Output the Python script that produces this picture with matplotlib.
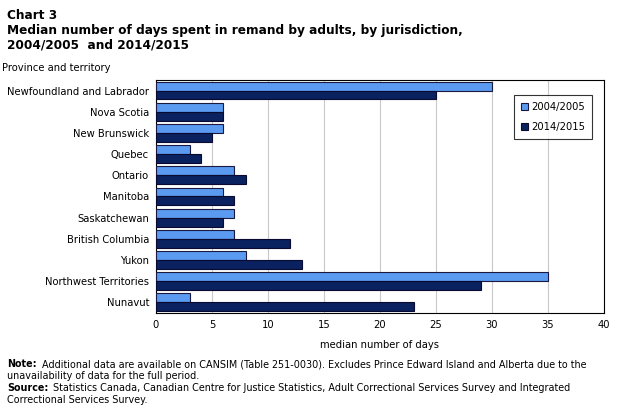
import numpy as np
import matplotlib.pyplot as plt

regions = ["Newfoundland and Labrador", "Nova Scotia", "New Brunswick", "Quebec",
           "Ontario", "Manitoba", "Saskatchewan", "British Columbia", "Yukon",
           "Northwest Territories", "Nunavut"]
days_0405 = [30, 6, 6, 3, 7, 6, 7, 7, 8, 35, 3]
days_1415 = [25, 6, 5, 4, 8, 7, 6, 12, 13, 29, 23]
xticks = [0, 5, 10, 15, 20, 25, 30, 35, 40]

fig = plt.figure(figsize=(6.2, 4.08), dpi=100)
ax = fig.add_axes([0.2516, 0.233, 0.7224, 0.571])

y = np.arange(len(regions))
h = 0.42
ax.barh(y - h / 2, days_0405, height=h, color="#5a9af0", edgecolor="#1a1a40",
        linewidth=0.8, label="2004/2005", zorder=3)
ax.barh(y + h / 2, days_1415, height=h, color="#0b2260", edgecolor="#0a0a30",
        linewidth=0.8, label="2014/2015", zorder=3)

ax.set_ylim(len(regions) - 0.5, -0.5)
ax.set_xlim(0, 40)
ax.set_yticks(y)
ax.set_yticklabels(regions, fontsize=7.2)
ax.set_xticks(xticks)
ax.set_xticklabels([str(t) for t in xticks], fontsize=7.2)
ax.tick_params(length=0, pad=5)
ax.xaxis.grid(True, color="#c8c8c8", linewidth=0.8, zorder=0)
for s in ax.spines.values():
    s.set_color("black")
    s.set_linewidth(0.8)
ax.set_xlabel("median number of days", fontsize=7.2, labelpad=7)

leg = ax.legend(loc="upper right", bbox_to_anchor=(0.985, 0.955), fontsize=7.2,
                frameon=True, fancybox=False, edgecolor="black",
                handlelength=0.7, handleheight=0.7, handletextpad=0.3,
                labelspacing=1.0, borderpad=0.7)
leg.get_frame().set_linewidth(0.8)

fig.text(0.012, 0.978, "Chart 3", fontsize=8.7, fontweight="bold", va="top")
fig.text(0.012, 0.940, "Median number of days spent in remand by adults, by jurisdiction,\n2004/2005  and 2014/2015",
         fontsize=8.7, fontweight="bold", va="top", linespacing=1.15)
fig.text(0.003, 0.845, "Province and territory", fontsize=7.2, va="top")

fs = 6.9
fig.text(0.012, 0.120, "Note:", fontsize=fs, fontweight="bold", va="top")
fig.text(0.067, 0.120, "Additional data are available on CANSIM (Table 251-0030). Excludes Prince Edward Island and Alberta due to the",
         fontsize=fs, va="top")
fig.text(0.012, 0.091, "unavailability of data for the full period.", fontsize=fs, va="top")
fig.text(0.012, 0.062, "Source:", fontsize=fs, fontweight="bold", va="top")
fig.text(0.085, 0.062, "Statistics Canada, Canadian Centre for Justice Statistics, Adult Correctional Services Survey and Integrated",
         fontsize=fs, va="top")
fig.text(0.012, 0.033, "Correctional Services Survey.", fontsize=fs, va="top")

fig.savefig("out.png", dpi=100)
